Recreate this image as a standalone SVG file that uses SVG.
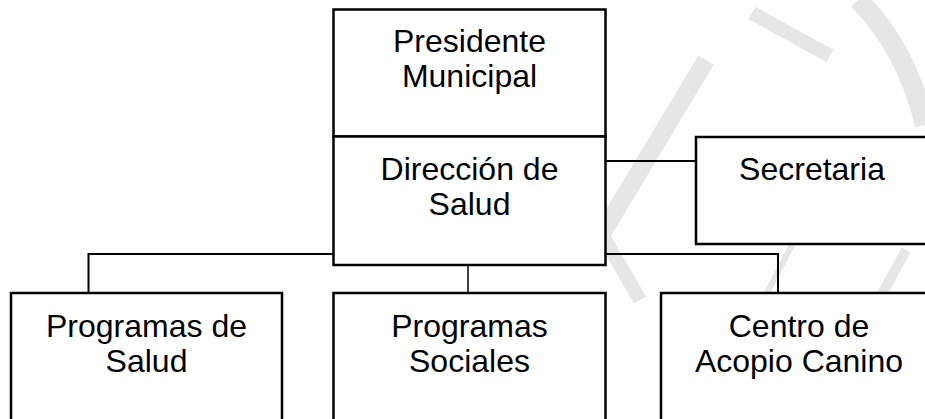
<svg xmlns="http://www.w3.org/2000/svg" width="925" height="419" viewBox="0 0 925 419">
<style>
.box{fill:#ffffff;stroke:#000000;stroke-width:2.5}
.con{fill:none;stroke:#000000;stroke-width:2}
.thin{fill:none;stroke:#000000;stroke-width:1.5}
.wm{fill:none;stroke:#e6e6e6;stroke-width:16;stroke-linecap:butt}
text{font-family:"Liberation Sans",Arial,sans-serif;font-size:32px;fill:#000000;text-anchor:middle}
</style>
<rect width="925" height="419" fill="#ffffff"/>
<g id="watermark">
<path class="wm" d="M 706 60 L 585 262" style="stroke-width:18"/>
<path class="wm" d="M 752 13 L 830 56" style="stroke-width:14"/>
<path class="wm" d="M 603 236 L 640 300" style="stroke-width:14"/>
<path class="wm" d="M 858 0 Q 905 45 925 125" style="stroke-width:20"/>
<path class="wm" d="M 792 245 L 758 310" style="stroke-width:6"/>
<path class="wm" d="M 906 250 L 880 298" style="stroke-width:10"/>
</g>
<g id="connectors">
<path class="con" d="M 605 161 H 696"/>
<path class="con" d="M 88.5 293 V 254 H 333.5"/>
<path class="con" d="M 605.5 254 H 778 V 293"/>
<path class="thin" d="M 468 265 V 293"/>
</g>
<g id="presidente">
<rect class="box" x="333.5" y="9.5" width="272" height="127"/>
<text x="469.5" y="52">Presidente</text>
<text x="469.5" y="87">Municipal</text>
</g>
<g id="direccion">
<rect class="box" x="333.5" y="136.5" width="272" height="128.5"/>
<text x="469.5" y="180">Dirección de</text>
<text x="469.5" y="215">Salud</text>
</g>
<g id="secretaria">
<rect class="box" x="696" y="137" width="240" height="107"/>
<text x="812" y="180">Secretaria</text>
</g>
<g id="programas-salud">
<rect class="box" x="11" y="293" width="271" height="140"/>
<text x="146.5" y="337">Programas de</text>
<text x="146.5" y="372">Salud</text>
</g>
<g id="programas-sociales">
<rect class="box" x="333.5" y="293" width="272" height="140"/>
<text x="469.5" y="337">Programas</text>
<text x="469.5" y="372">Sociales</text>
</g>
<g id="centro-acopio">
<rect class="box" x="661" y="293" width="280" height="140"/>
<text x="799" y="337">Centro de</text>
<text x="799" y="372">Acopio Canino</text>
</g>
</svg>
